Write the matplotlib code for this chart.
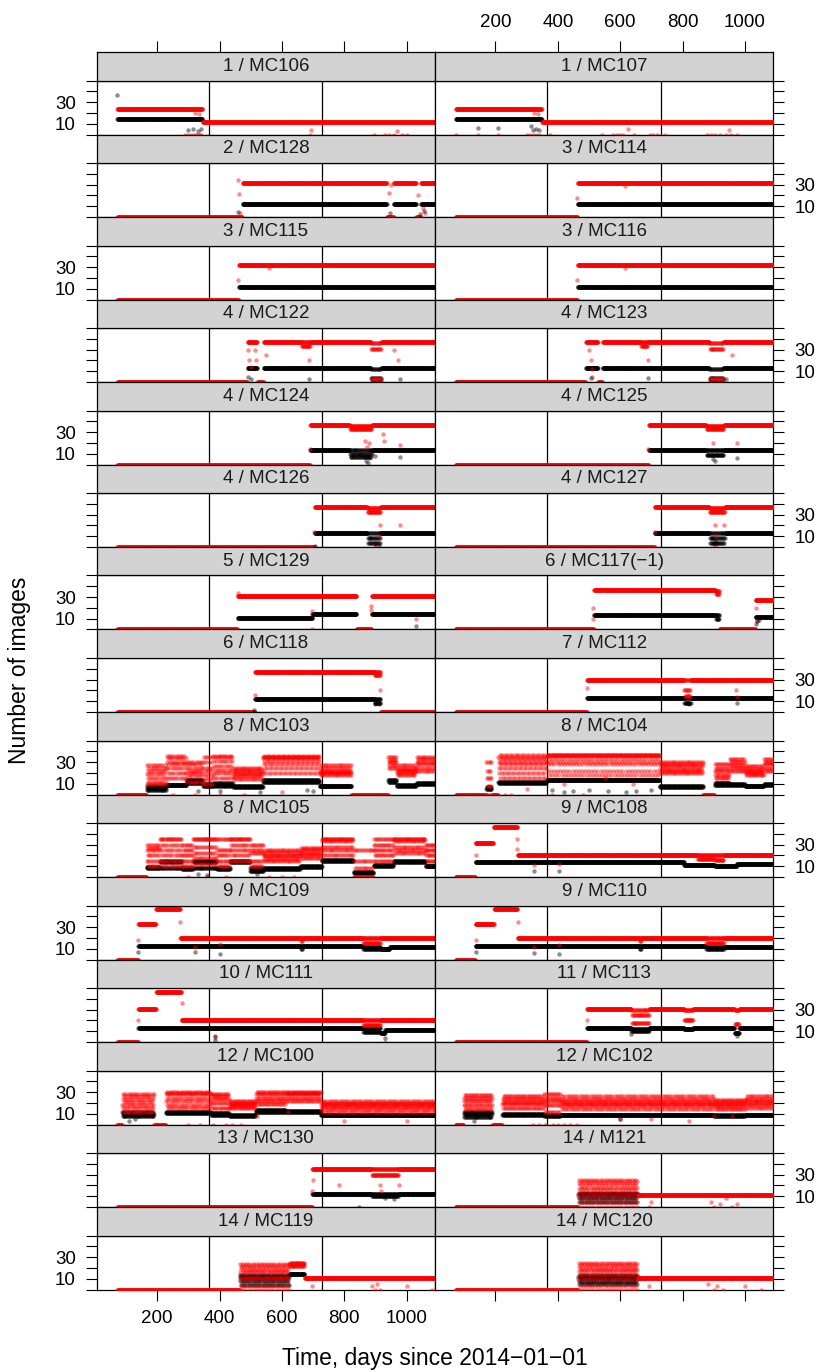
import matplotlib.pyplot as plt
import numpy as np

plt.rcParams['font.family'] = ['Liberation Sans', 'DejaVu Sans']

# Each camera: stretches of days (first, last, red level, black level).
# None = no black point visible.  out_* = single stray points (day, value, colour).
seg_MC106 = [(72, 345, 24, 14), (346, 1095, 12, None)]
out_MC106 = [(72, 37, 'k'), (300, 4, 'k'), (315, 5, 'k'), (330, 3, 'k'), (340, 5, 'k'),
             (288, 0, 'r'), (300, 0, 'r'), (310, 0, 'r'), (318, 0, 'r'), (325, 0, 'r'),
             (332, 0, 'r'), (338, 0, 'r'), (342, 0, 'r'), (320, 20, 'r'), (335, 19, 'r'),
             (690, 0, 'r'), (692, 4, 'r'), (895, 0, 'r'), (930, 0, 'r'), (945, 0, 'r'),
             (960, 0, 'r'), (970, 3, 'r'), (985, 0, 'r'), (1000, 0, 'r')]
seg_MC107 = [(73, 348, 24, 14), (349, 1095, 12, None)]
out_MC107 = [(145, 6, 'k'), (209, 6, 'k'), (315, 8, 'k'), (320, 4, 'k'), (330, 5, 'k'), (340, 4, 'k'),
             (73, 0, 'r'), (145, 0, 'r'), (209, 0, 'r'), (300, 0, 'r'), (310, 0, 'r'), (320, 0, 'r'),
             (330, 0, 'r'), (340, 0, 'r'), (325, 20, 'r'), (335, 19, 'r'), (375, 0, 'r'), (541, 0, 'r'),
             (578, 0, 'r'), (590, 0, 'r'), (600, 0, 'r'), (610, 0, 'r'), (626, 5, 'r'), (643, 0, 'r'),
             (696, 0, 'r'), (705, 0, 'r'), (717, 0, 'r'), (744, 0, 'r'), (877, 0, 'r'), (890, 0, 'r'),
             (905, 0, 'r'), (920, 0, 'r'), (940, 0, 'r'), (950, 4, 'r'), (955, 0, 'r'), (974, 0, 'r')]

seg_MC128 = [(72, 472, 0, None), (474, 936, 31.5, 12), (937, 958, 0, None),
             (959, 1030, 31.5, 12), (1031, 1045, 0, None), (1046, 1095, 31.5, 12)]
out_MC128 = [(458, 34, 'r'), (461, 21, 'r'), (464, 4, 'r'), (460, 5, 'k'), (942, 22, 'r'),
             (950, 30, 'r'), (1038, 20, 'r'), (1052, 8, 'r'), (1060, 4, 'r'),
             (948, 4, 'k'), (1042, 3, 'k'), (1055, 6, 'k')]
seg_MC114 = [(72, 463, 0, None), (464, 1095, 31.5, 12)]
out_MC114 = [(460, 18, 'r'), (614, 29, 'r')]

seg_MC115 = [(72, 461, 0, None), (462, 1095, 31.5, 12)]
out_MC115 = [(458, 18, 'r'), (560, 29, 'r')]
seg_MC116 = [(72, 463, 0, None), (464, 1095, 31.5, 12)]
out_MC116 = [(460, 18, 'r'), (614, 29, 'r')]

seg_MC122 = [(72, 489, 0, None), (490, 520, 37, 13), (521, 541, 0, None), (542, 662, 37, 13),
             (663, 690, (37, 33), 13), (691, 885, 37, 13), (886, 918, (36, 31, 3), (12, 4, 2)),
             (919, 1095, 37, 13)]
out_MC122 = [(492, 30, 'r'), (495, 20, 'r'), (500, 14, 'r'), (514, 30, 'r'), (516, 20, 'r'),
             (549, 25, 'r'), (686, 20, 'r'), (973, 20, 'r'), (960, 30, 'r'),
             (500, 3, 'k'), (686, 3, 'k'), (980, 3, 'k'), (492, 5, 'k')]
seg_MC123 = [(72, 489, 0, None), (490, 528, 37, 13), (529, 543, 0, None), (544, 665, 37, 13),
             (666, 688, (37, 33), 13), (689, 885, 37, 13), (886, 930, (36, 31, 3), (12, 4, 2)),
             (931, 1095, 37, 13)]
out_MC123 = [(500, 30, 'r'), (505, 20, 'r'), (508, 12, 'r'), (510, 5, 'r'), (688, 20, 'r'),
             (960, 25, 'r'), (505, 4, 'k'), (688, 4, 'k'), (940, 3, 'k')]

seg_MC124 = [(72, 690, 0, None), (691, 817, 37, 13), (818, 888, (36, 33), (13, 10, 7)),
             (889, 1095, 37, 13)]
out_MC124 = [(867, 22, 'r'), (872, 16, 'r'), (880, 20, 'r'), (928, 22, 'r'), (925, 28, 'r'),
             (980, 18, 'r'), (690, 14, 'r'), (870, 3, 'k'), (880, 6, 'k'), (900, 8, 'k'),
             (980, 7, 'k'), (875, 1, 'k')]
seg_MC125 = [(72, 691, 0, None), (692, 875, 37, 13), (876, 932, (36, 33), (13, 9)),
             (933, 1095, 37, 13)]
out_MC125 = [(897, 20, 'r'), (974, 20, 'r'), (690, 14, 'r'),
             (897, 5, 'k'), (905, 3, 'k'), (974, 6, 'k')]

seg_MC126 = [(72, 704, 0, None), (705, 873, 37, 13), (874, 916, (36, 32), (13, 8, 4)),
             (917, 1095, 37, 13)]
out_MC126 = [(916, 20, 'r'), (912, 10, 'r'), (980, 20, 'r'), (703, 14, 'r'), (900, 3, 'r'),
             (900, 3, 'k'), (910, 1, 'k'), (705, 1, 'k')]
seg_MC127 = [(72, 710, 0, None), (711, 885, 37, 13), (886, 935, (36, 32), (13, 8, 4)),
             (936, 1095, 37, 13)]
out_MC127 = [(904, 20, 'r'), (906, 10, 'r'), (908, 0, 'r'), (932, 20, 'r'), (710, 14, 'r'),
             (900, 3, 'k'), (905, 6, 'k')]

seg_MC129 = [(72, 457, 0, None), (458, 697, 31, 11), (698, 839, 31, 14.5),
             (840, 887, 0, None), (888, 1095, 31, 14.5)]
out_MC129 = [(458, 34, 'r'), (697, 17, 'r'), (697, 0, 'r'), (885, 22, 'r'), (886, 18, 'r'),
             (1029, 10, 'r'), (1029, 3, 'k')]
seg_MC117 = [(72, 515, 0, None), (516, 905, 37, 13.5), (906, 918, (36, 33), (13, 10)),
             (919, 1033, 0, None), (1034, 1095, 27, 12)]
out_MC117 = [(512, 20, 'r'), (513, 10, 'r'), (1036, 20, 'r'), (1038, 8, 'r'),
             (1036, 5, 'k'), (1040, 8, 'k'), (1045, 9, 'k')]

seg_MC118 = [(72, 513, 0, None), (514, 895, 37, 12.5), (896, 916, (37, 34), (12.5, 8)),
             (917, 1095, 0, None)]
out_MC118 = [(514, 16, 'r'), (913, 20, 'r'), (511, 2, 'k'), (900, 7, 'k'), (910, 7, 'k')]
seg_MC112 = [(72, 493, 0, None), (494, 804, 30, 13), (805, 826, (30, 20, 15), (13, 8)),
             (827, 1095, 30, 13)]
out_MC112 = [(494, 22, 'r'), (974, 14, 'r'), (972, 20, 'r'),
             (974, 8, 'k'), (810, 8, 'k'), (820, 7, 'k')]

seg_MC103 = [(72, 165, 0, None), (166, 229, (10, 19, 27, 15, 22, 12, 25), (4, 8, 6)),
             (230, 293, (15, 36, 25, 30, 20, 34, 28), (8.5, 9)),
             (294, 346, (20, 30, 25, 12, 28, 17, 22), (13, 11)),
             (347, 378, (10, 25, 35, 18, 30, 14, 22), (8, 10)),
             (379, 442, (15, 36, 26, 20, 31, 23, 35), (11, 8, 9)),
             (443, 538, (17, 25, 21, 14, 19, 23), (8, 7)),
             (539, 720, (35, 34, 28, 20, 36, 31, 25, 35), (13, 12)),
             (721, 822, (20, 25, 22, 18, 27, 21), (8, 7.5)), (823, 940, 0, None),
             (941, 967, (35, 30, 25, 32, 27), (13, 12)),
             (968, 1030, (20, 25, 22, 18, 27, 23), (8, 9)),
             (1031, 1095, (25, 30, 35, 22, 28, 33), (10, 11))]
out_MC103 = [(250, 0, 'r'), (320, 0, 'r'), (400, 0, 'r'), (480, 0, 'r'), (600, 2, 'r'),
             (330, 3, 'k'), (400, 3, 'k'), (530, 2, 'k'), (680, 4, 'k'), (700, 3, 'k')]
seg_MC104 = [(73, 170, 0, None), (171, 187, (30, 15, 0, 22, 8), (5, 7)), (188, 208, 0, None),
             (209, 363, (35, 25, 30, 20, 37, 28, 15, 33), (12, 11)),
             (364, 726, (37, 36, 30, 22, 37, 28, 37, 33, 18, 37), 13),
             (727, 865, (28, 24, 20, 26, 22, 30), (8, 7)),
             (866, 902, 0, None), (903, 950, (22, 28, 18, 25, 15), (9, 11)),
             (951, 1000, (33, 27, 22, 30, 25), (10, 9)), (1001, 1060, (22, 26, 20, 24, 18), 8),
             (1061, 1095, (28, 33, 25, 30, 22), (10, 9))]
out_MC104 = [(380, 4, 'k'), (420, 2, 'k'), (450, 3, 'k'), (500, 4, 'k'), (560, 3, 'k'),
             (620, 2, 'k'), (650, 3, 'k'), (700, 4, 'k'), (230, 0, 'r'), (250, 0, 'r'),
             (300, 5, 'r'), (380, 0, 'r'), (420, 10, 'r'), (480, 0, 'r'), (550, 15, 'r'),
             (640, 10, 'r')]

seg_MC105 = [(72, 165, 0, None), (166, 208, (15, 25, 30, 20, 10, 27), (9, 8)),
             (209, 278, (35, 25, 15, 30, 35, 20, 10), (15, 14, 8)),
             (279, 315, (10, 20, 30, 15, 25), (8, 7)),
             (316, 390, (35, 28, 18, 35, 22, 12), (15, 14, 8)),
             (391, 433, (15, 25, 35, 20, 10), (8, 7)),
             (434, 497, (35, 25, 15, 35, 30, 20), (15, 14)),
             (498, 540, (15, 22, 30, 10, 25), (6, 8)),
             (541, 658, (20, 17, 23, 19, 25, 15), (8, 7)),
             (659, 727, (22, 25, 20, 27, 18), (10, 9)),
             (728, 829, (35, 33, 28, 35, 25, 20), (16, 15)),
             (830, 893, (0, 0, 15, 25, 0, 8), (5, 4)),
             (894, 957, (25, 30, 35, 20, 15), (10, 11)),
             (958, 1060, (35, 33, 28, 35, 25, 22), (15, 14)),
             (1061, 1095, (25, 30, 20, 15), 10)]
out_MC105 = [(300, 0, 'r'), (360, 0, 'r'), (420, 0, 'r'), (560, 0, 'r'), (600, 0, 'r'),
             (640, 0, 'r'), (330, 3, 'k'), (360, 2, 'k'), (520, 3, 'k')]
seg_MC108 = [(72, 135, 0, None), (136, 193, 31.5, 14), (194, 270, 46, 14), (271, 804, 20.5, 14),
             (805, 847, 20.5, 11.5), (848, 903, (20, 17), 11.5), (904, 932, (20, 16), 10),
             (933, 973, 20, 10), (974, 1095, 20.5, 12.5)]
out_MC108 = [(270, 35, 'r'), (268, 26, 'r'), (322, 11, 'r'), (403, 12, 'r'), (136, 20, 'r'),
             (322, 6, 'k'), (403, 6, 'k')]

seg_MC109 = [(72, 139, 0, None), (140, 195, 33, 12.5), (196, 273, 46.5, 12.5),
             (274, 661, 20, 12.5), (662, 664, 17, 10), (665, 859, 20, 12.5),
             (860, 916, (20, 15), (12, 10)), (917, 945, 20, 10), (946, 1095, 20, 12)]
out_MC109 = [(274, 35, 'r'), (140, 18, 'r'), (321, 12, 'r'), (401, 14, 'r'),
             (321, 7, 'k'), (401, 5, 'k'), (140, 7, 'k')]
seg_MC110 = [(72, 135, 0, None), (136, 195, 33, 12.5), (196, 270, 46.5, 12.5),
             (271, 663, 20, 12.5), (664, 666, 17, 10), (667, 874, 20, 12.5),
             (875, 932, (20, 15), (12, 10)), (933, 1095, 20, 12)]
out_MC110 = [(271, 35, 'r'), (136, 18, 'r'), (322, 12, 'r'), (403, 13, 'r'),
             (322, 6, 'k'), (403, 5, 'k'), (136, 7, 'k')]

seg_MC111 = [(72, 139, 0, None), (140, 196, 31, 13), (197, 277, 46, 13), (278, 859, 20, 13),
             (860, 916, (20, 16), (13, 9)), (917, 930, 20, 8), (931, 1095, 20, 11)]
out_MC111 = [(387, 5, 'r'), (930, 0, 'r'), (280, 36, 'r'), (140, 20, 'r'),
             (387, 2, 'k'), (930, 4, 'k'), (384, 6, 'k')]
seg_MC113 = [(72, 493, 0, None), (494, 635, 30.5, 13), (636, 692, (30, 18, 25), (10, 12)),
             (693, 804, 30.5, 13), (805, 833, (30, 20), 12), (834, 966, 30.5, 13),
             (967, 981, (30, 17), 8), (982, 1095, 30.5, 13)]
out_MC113 = [(494, 20, 'r'), (636, 7, 'k'), (974, 6, 'k')]

seg_MC100 = [(71, 87, 0, None), (88, 189, (18, 24, 15, 28, 21, 12, 26), (12, 8, 10)),
             (190, 227, 0, None), (228, 371, (29, 22, 18, 28, 25, 30, 15), (12, 11)),
             (372, 430, (20, 28, 24, 15, 26), (11, 9)),
             (431, 515, (15, 19, 22, 17, 20), (8.5, 8)),
             (516, 611, (22, 28, 25, 30, 19), (12, 13)),
             (612, 724, (28, 25, 30, 29, 22), (12.5, 12)),
             (725, 1095, (18, 14, 20, 16, 22, 12, 19), (8.5, 9))]
out_MC100 = [(337, 0, 'r'), (380, 0, 'r'), (422, 0, 'r'), (440, 0, 'r'), (470, 0, 'r'),
             (300, 0, 'r'), (800, 3, 'r'), (1000, 3, 'r'), (520, 8, 'r'), (620, 12, 'r'),
             (110, 3, 'k'), (130, 5, 'k')]
seg_MC102 = [(72, 97, 0, None), (98, 189, (18, 25, 22, 14, 27), (10, 12, 7)),
             (190, 221, 0, None), (222, 355, (19, 24, 15, 21, 26), (9, 10)),
             (356, 408, (18, 28, 22, 12, 25), (9, 8)),
             (409, 900, (20, 24, 17, 22, 14, 26, 19), (9, 8.5)),
             (901, 1000, (17, 21, 19, 14, 23), (8, 9)),
             (1001, 1095, (20, 24, 18, 22, 15, 26), 9)]
out_MC102 = [(320, 0, 'r'), (340, 0, 'r'), (360, 0, 'r'), (385, 0, 'r'), (400, 0, 'r'),
             (420, 0, 'r'), (440, 0, 'r'), (460, 0, 'r'), (600, 5, 'r'), (700, 5, 'r'),
             (820, 3, 'r'), (900, 8, 'r'), (960, 8, 'r'), (130, 3, 'k'), (600, 5, 'k')]

seg_MC130 = [(72, 697, 0, None), (698, 887, 35, 12.5), (888, 973, (35, 30), (12, 10)),
             (974, 1095, 35, 12.5)]
out_MC130 = [(783, 20, 'r'), (916, 20, 'r'), (918, 15, 'r'), (700, 25, 'r'), (698, 15, 'r'),
             (975, 20, 'r'), (846, 0, 'k'), (930, 8, 'k'), (960, 7, 'k')]
seg_M121 = [(72, 465, 0, None),
            (466, 656, (10, 25, 17, 22, 5, 20, 13, 24, 0, 18), (12, 8, 13, 5, 11)),
            (657, 1095, 11.5, None)]
out_M121 = [(692, 0, 'r'), (700, 5, 'r'), (890, 5, 'r'), (900, 0, 'r'), (920, 3, 'r'),
            (940, 8, 'r'), (960, 0, 'r'), (974, 3, 'r')]

seg_MC119 = [(72, 464, 0, None),
             (465, 623, (10, 24, 16, 21, 3, 19, 12, 23, 0, 17), (13, 8, 12, 4, 11)),
             (624, 672, (24, 22, 25), 14), (673, 1095, 10.5, None)]
out_MC119 = [(697, 3, 'r'), (890, 3, 'r'), (900, 0, 'r'), (905, 5, 'r'), (915, 0, 'r'),
             (1000, 3, 'r'), (1080, 0, 'r')]
seg_MC120 = [(72, 465, 0, None),
             (466, 656, (10, 25, 17, 22, 3, 20, 13, 24, 0, 18), (12, 8, 13, 5, 11)),
             (657, 1095, 10.5, None)]
out_MC120 = [(692, 3, 'r'), (880, 5, 'r'), (900, 0, 'r'), (910, 3, 'r'), (930, 0, 'r'),
             (1000, 3, 'r'), (1050, 0, 'r')]

panels = [
    ("1 / MC106", seg_MC106, out_MC106), ("1 / MC107", seg_MC107, out_MC107),
    ("2 / MC128", seg_MC128, out_MC128), ("3 / MC114", seg_MC114, out_MC114),
    ("3 / MC115", seg_MC115, out_MC115), ("3 / MC116", seg_MC116, out_MC116),
    ("4 / MC122", seg_MC122, out_MC122), ("4 / MC123", seg_MC123, out_MC123),
    ("4 / MC124", seg_MC124, out_MC124), ("4 / MC125", seg_MC125, out_MC125),
    ("4 / MC126", seg_MC126, out_MC126), ("4 / MC127", seg_MC127, out_MC127),
    ("5 / MC129", seg_MC129, out_MC129), ("6 / MC117(\u22121)", seg_MC117, out_MC117),
    ("6 / MC118", seg_MC118, out_MC118), ("7 / MC112", seg_MC112, out_MC112),
    ("8 / MC103", seg_MC103, out_MC103), ("8 / MC104", seg_MC104, out_MC104),
    ("8 / MC105", seg_MC105, out_MC105), ("9 / MC108", seg_MC108, out_MC108),
    ("9 / MC109", seg_MC109, out_MC109), ("9 / MC110", seg_MC110, out_MC110),
    ("10 / MC111", seg_MC111, out_MC111), ("11 / MC113", seg_MC113, out_MC113),
    ("12 / MC100", seg_MC100, out_MC100), ("12 / MC102", seg_MC102, out_MC102),
    ("13 / MC130", seg_MC130, out_MC130), ("14 / M121", seg_M121, out_M121),
    ("14 / MC119", seg_MC119, out_MC119), ("14 / MC120", seg_MC120, out_MC120),
]

year_marks = [365, 730]
x_ticks = [200, 400, 600, 800, 1000]
y_ticks = [0, 10, 20, 30, 40, 50]
y_labels = ['', '10', '', '30', '', '']


def expand(segs):
    days, red, blk = [], [], []
    for start, end, r, k in segs:
        r = r if isinstance(r, tuple) else (r,)
        if k is None:
            k = (np.nan,)
        elif not isinstance(k, tuple):
            k = (k,)
        for i, d in enumerate(range(start, end + 1)):
            days.append(d)
            red.append(r[i % len(r)])
            blk.append(k[i % len(k)])
    return np.array(days), np.array(red, float), np.array(blk, float)


W, H = 821, 1372
X0, XM, X1 = 96.7, 435.0, 773.3
TOP, ROW, STRIP = 52.0, 82.5, 28.5
XLIM = (6, 1091)
FS = 13.5
TICKLEN = 8

fig = plt.figure(figsize=(W / 100, H / 100), dpi=100)

for idx, (title, segs, outs) in enumerate(panels):
    r, c = divmod(idx, 2)
    left = (X0 if c == 0 else XM) / W
    width = (XM - X0) / W
    strip_top = TOP + r * ROW
    plot_bot = TOP + (r + 1) * ROW

    ax = fig.add_axes([left, 1 - plot_bot / H, width, (ROW - STRIP) / H])
    st = fig.add_axes([left, 1 - (strip_top + STRIP) / H, width, STRIP / H])

    # strip
    st.set_facecolor('#d3d3d3')
    st.set_xlim(XLIM)
    st.set_ylim(0, 1)
    st.set_yticks([])
    st.text(0.5, 0.5, title, transform=st.transAxes, ha='center', va='center',
            fontsize=FS, color='#1a1a1a')
    if r == 0:
        st.set_xticks(x_ticks)
        st.tick_params(axis='x', top=True, bottom=False, labeltop=(c == 1),
                       labelbottom=False, direction='out', length=TICKLEN,
                       width=0.8, labelsize=FS, pad=7)
    else:
        st.set_xticks([])

    # panel
    for v in year_marks:
        ax.axvline(v, color='black', lw=0.9, zorder=1)
    days, red, blk = expand(segs)
    ok = ~np.isnan(blk)
    ax.plot(days[ok], blk[ok], 'o', color='black', ms=3.2, mew=0, alpha=0.45, zorder=2)
    ax.plot(days, red, 'o', color='red', ms=3.2, mew=0, alpha=0.45, zorder=3)
    ko = [(d, v) for d, v, col in outs if col == 'k']
    ro = [(d, v) for d, v, col in outs if col == 'r']
    if ro:
        ax.plot(*zip(*ro), 'o', color='red', ms=3.2, mew=0, alpha=0.45, zorder=3)
    if ko:
        ax.plot(*zip(*ko), 'o', color='black', ms=3.2, mew=0, alpha=0.45, zorder=4)

    ax.set_xlim(XLIM)
    ax.set_ylim(0, 50)
    ax.set_yticks(y_ticks)
    ax.set_yticklabels(y_labels)
    ax.tick_params(axis='y', left=(c == 0), right=(c == 1),
                   labelleft=(c == 0 and r % 2 == 0), labelright=(c == 1 and r % 2 == 1),
                   direction='out', length=TICKLEN, width=0.8, labelsize=FS, pad=7)
    ax.set_xticks(x_ticks)
    last = (r == len(panels) // 2 - 1)
    ax.tick_params(axis='x', bottom=last, top=False, labelbottom=(last and c == 0),
                   labeltop=False, direction='out', length=TICKLEN, width=0.8,
                   labelsize=FS, pad=7)
    for a in (ax, st):
        for sp in a.spines.values():
            sp.set_linewidth(0.9)
            sp.set_color('black')

fig.text((X0 + X1) / 2 / W, 1 - 1358 / H, "Time, days since 2014\u221201\u221201",
         ha='center', va='center', fontsize=16.5)
fig.text(20 / W, 1 - 670 / H, "Number of images", rotation=90,
         ha='center', va='center', fontsize=16.5)

fig.savefig('out.png', dpi=100)
